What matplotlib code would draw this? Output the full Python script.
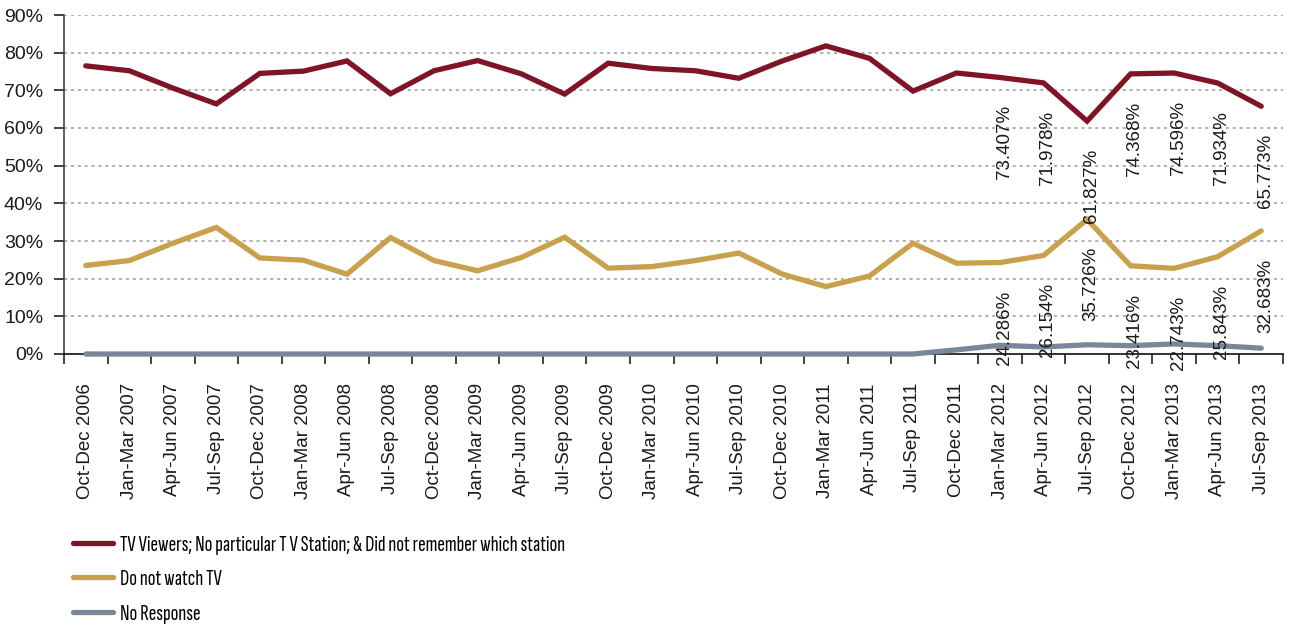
import numpy as np
import matplotlib
matplotlib.use('Agg')
import matplotlib.pyplot as plt
from matplotlib.ticker import FixedLocator, PercentFormatter

plt.rcParams['font.family'] = ['Liberation Sans', 'DejaVu Sans']

quarters = ['Oct-Dec 2006', 'Jan-Mar 2007', 'Apr-Jun 2007', 'Jul-Sep 2007',
            'Oct-Dec 2007', 'Jan-Mar 2008', 'Apr-Jun 2008', 'Jul-Sep 2008',
            'Oct-Dec 2008', 'Jan-Mar 2009', 'Apr-Jun 2009', 'Jul-Sep 2009',
            'Oct-Dec 2009', 'Jan-Mar 2010', 'Apr-Jun 2010', 'Jul-Sep 2010',
            'Oct-Dec 2010', 'Jan-Mar 2011', 'Apr-Jun 2011', 'Jul-Sep 2011',
            'Oct-Dec 2011', 'Jan-Mar 2012', 'Apr-Jun 2012', 'Jul-Sep 2012',
            'Oct-Dec 2012', 'Jan-Mar 2013', 'Apr-Jun 2013', 'Jul-Sep 2013']

# shares in percent
tv_viewers = [76.5, 75.2, 70.6, 66.4, 74.5, 75.1, 77.8, 69.1, 75.2, 77.9,
              74.4, 69.0, 77.2, 75.8, 75.2, 73.2, 77.8, 81.8, 78.5, 69.8,
              74.6, 73.407, 71.978, 61.827, 74.368, 74.596, 71.934, 65.773]
no_tv = [23.5, 24.8, 29.4, 33.6, 25.5, 24.9, 21.2, 30.9, 24.8, 22.1,
         25.6, 31.0, 22.8, 23.2, 24.8, 26.8, 21.2, 17.9, 20.7, 29.4,
         24.1, 24.286, 26.154, 35.726, 23.416, 22.743, 25.843, 32.683]
no_response = [0, 0, 0, 0, 0, 0, 0, 0, 0, 0,
               0, 0, 0, 0, 0, 0, 0, 0, 0, 0,
               1.1, 2.307, 1.868, 2.447, 2.216, 2.661, 2.223, 1.544]

labelled_from = 21  # only the recent quarters carry value labels

series = [
    ('TV Viewers; No particular T V Station; & Did not remember which station', tv_viewers, '#7f1426'),
    ('Do not watch TV', no_tv, '#c9a04b'),
    ('No Response', no_response, '#7a8699'),
]

fig = plt.figure(figsize=(12.9, 6.26), dpi=100)
ax = fig.add_axes([64 / 1290, 1 - 354 / 626, (1283 - 64) / 1290, (354 - 15) / 626])

x = np.arange(len(quarters))
handles = []
for name, vals, col in series:
    h, = ax.plot(x, vals, color=col, lw=3.8, solid_capstyle='round',
                 solid_joinstyle='miter', zorder=3, clip_on=False, label=name)
    handles.append(h)

for vals in (tv_viewers, no_tv):
    for i in range(labelled_from, len(quarters)):
        ax.annotate(f'{vals[i]:.3f}%', (x[i], vals[i]), xytext=(3, -20),
                    textcoords='offset points', rotation=90, ha='center', va='top',
                    fontsize=13.5, color='#1a1a1a', zorder=4)

ax.set_xlim(-0.5, len(quarters) - 0.5)
ax.set_ylim(0, 90)
ax.yaxis.set_major_locator(FixedLocator(np.arange(0, 91, 10)))
ax.yaxis.set_major_formatter(PercentFormatter(decimals=0))
for yv in range(10, 91, 10):
    ax.axhline(yv, color='#9a9a9a', lw=1.1, ls=(0, (2, 2.5)), zorder=1)

ax.set_xticks(x)
ax.set_xticklabels(quarters, rotation=90, fontsize=13.5, color='#1a1a1a')
ax.set_xticks(np.arange(-0.5, len(quarters)), minor=True)
ax.tick_params(axis='x', which='major', length=0, pad=21)
ax.tick_params(axis='x', which='minor', length=7, width=1.2, direction='out', color='#222222')
ax.tick_params(axis='y', length=7, width=1.2, color='#222222', labelcolor='#1a1a1a',
               labelsize=14, pad=8)

for side in ('top', 'right'):
    ax.spines[side].set_visible(False)
ax.spines['left'].set_color('#444444')
ax.spines['left'].set_linewidth(1.2)
ax.spines['bottom'].set_color('#111111')
ax.spines['bottom'].set_linewidth(1.2)

fig.legend(handles=handles, loc='upper left', bbox_to_anchor=(73 / 1290, 1 - 535 / 626),
           frameon=False, handlelength=1.75, handletextpad=0.31,
           labelspacing=0.62, borderaxespad=0, borderpad=0,
           prop={'family': ['Sofia Sans Extra Condensed', 'Liberation Sans'], 'size': 16.5})

fig.savefig('out.png', dpi=100)
